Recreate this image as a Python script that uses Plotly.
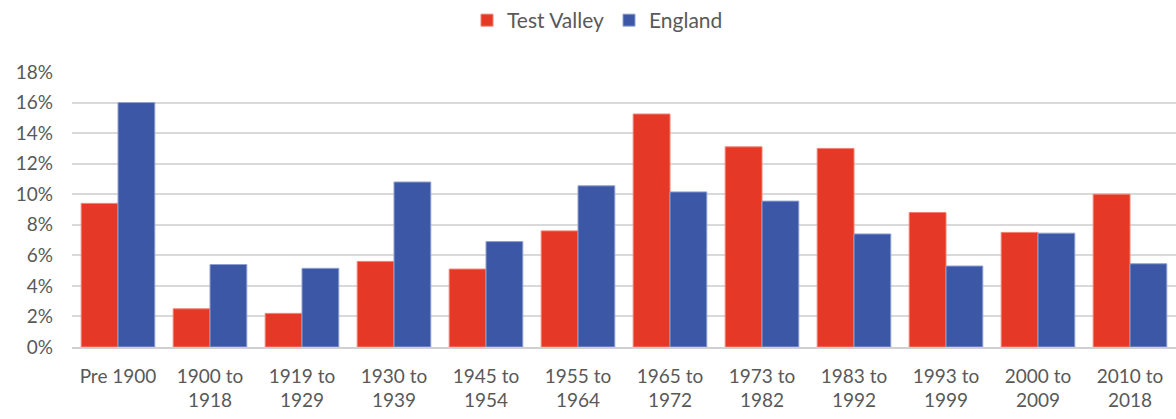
import plotly.graph_objects as go

categories = ["Pre 1900", "1900 to<br>1918", "1919 to<br>1929", "1930 to<br>1939", "1945 to<br>1954",
              "1955 to<br>1964", "1965 to<br>1972", "1973 to<br>1982", "1983 to<br>1992",
              "1993 to<br>1999", "2000 to<br>2009", "2010 to<br>2018"]
test_valley = [9.4, 2.5, 2.2, 5.6, 5.1, 7.6, 15.25, 13.1, 13.0, 8.8, 7.5, 10.0]
england = [16.0, 5.4, 5.15, 10.8, 6.9, 10.55, 10.15, 9.55, 7.4, 5.3, 7.45, 5.45]
y_ticks = [0, 2, 4, 6, 8, 10, 12, 14, 16, 18]

font_family = "Lato, 'Open Sans', sans-serif"
grey = "#595959"

fig = go.Figure()
fig.add_trace(go.Bar(name="Test Valley", x=categories, y=test_valley,
                     marker=dict(color="#E53826", line=dict(color="#F08070", width=1))))
fig.add_trace(go.Bar(name="England", x=categories, y=england,
                     marker=dict(color="#3C57A5", line=dict(color="#8FA0D0", width=1))))

fig.update_layout(
    width=1176, height=419,
    barmode="group", bargap=0.2, bargroupgap=0,
    margin=dict(l=72, r=0, t=72, b=72),
    paper_bgcolor="white", plot_bgcolor="white",
    font=dict(family=font_family, size=19, color=grey),
    legend=dict(orientation="h", x=0.476, xanchor="center", y=1.0, yanchor="top",
                yref="container", font=dict(size=21, color=grey),
                traceorder="normal"),
    showlegend=True,
)
fig.update_xaxes(showline=True, linecolor="#d0d0d0", linewidth=1.5, ticks="",
                 tickfont=dict(size=19, color=grey), ticklabelstandoff=11, automargin=False)
fig.update_yaxes(range=[0, 18], tickvals=y_ticks, ticktext=[f"{v}%" for v in y_ticks],
                 showgrid=True, gridcolor="#d9d9d9", gridwidth=1.5, zeroline=False,
                 tickfont=dict(size=19, color=grey), ticklabelstandoff=18, automargin=False)

fig.write_html("out.html", config={"displayModeBar": False},
               post_script="document.body.style.margin='0';")
